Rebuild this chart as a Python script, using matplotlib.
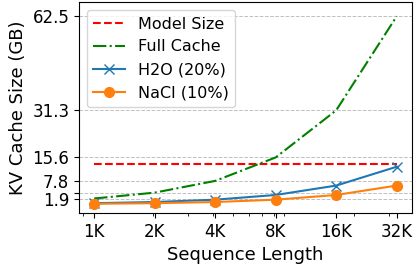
import matplotlib
matplotlib.use("Agg")
import matplotlib.pyplot as plt

seq_len = [1024, 2048, 4096, 8192, 16384, 32768]
seq_labels = ["1K", "2K", "4K", "8K", "16K", "32K"]

model_size = [13.5] * 6
full_cache = [1.95, 3.9, 7.8, 15.6, 31.25, 62.5]
h2o_cache = [0.39, 0.78, 1.56, 3.125, 6.25, 12.5]
nacl_cache = [0.195, 0.39, 0.78, 1.56, 3.125, 6.25]

ytick_vals = [1.95, 3.9, 7.8, 15.6, 31.25, 62.5]
ytick_labels = ["1.9", "", "7.8", "15.6", "31.3", "62.5"]

fig, ax = plt.subplots(figsize=(4.16, 2.66), dpi=100)
fig.subplots_adjust(left=0.19, right=0.99, top=0.992, bottom=0.2)

ax.plot(seq_len, model_size, "r--", label="Model Size")
ax.plot(seq_len, full_cache, "g-.", label="Full Cache")
ax.plot(seq_len, h2o_cache, "x-", color="tab:blue", markersize=7, label="H2O (20%)")
ax.plot(seq_len, nacl_cache, "o-", color="tab:orange", markersize=7, label="NaCl (10%)")

ax.set_xscale("log")
ax.set_xticks(seq_len)
ax.set_xticklabels(seq_labels)
ax.set_yticks(ytick_vals)
ax.set_yticklabels(ytick_labels)
ax.set_ylim(-2.8, 67.2)
ax.tick_params(labelsize=12)
ax.grid(axis="y", linestyle="--", color="#b0b0b0", alpha=0.8, linewidth=0.7)

ax.set_xlabel("Sequence Length", fontsize=13)
ax.set_ylabel("KV Cache Size (GB)", fontsize=13)
ax.legend(loc="upper left", fontsize=11.5)

fig.savefig("out.png")
